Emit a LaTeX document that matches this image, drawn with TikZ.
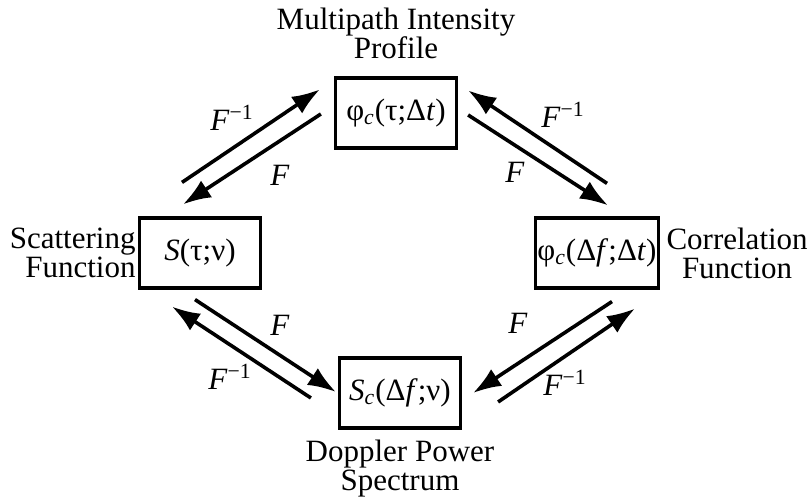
\documentclass[tikz,border=0pt]{standalone}
\usepackage{fontspec}
\setmainfont{Liberation Serif}
\usetikzlibrary{arrows.meta,calc,positioning}
\newcommand{\Finv}{\textit{F}\textsuperscript{−1}}

\begin{document}
\begin{tikzpicture}[x=0.5pt,y=0.5pt,font=\fontsize{15.5}{14.5}\selectfont,>=Latex,
  fbox/.style={draw,line width=1.6pt,minimum width=60.5pt,minimum height=35pt,inner sep=1pt},
  caption/.style={align=center,inner sep=0pt},
  arr/.style={-{Latex[length=14pt,width=10pt]},line width=1.8pt},
  lbl/.style={inner sep=0pt}]
  \useasboundingbox (0,0) rectangle (811,501);
  \node[fbox] (mip) at (396,388) {φ\textsubscript{\itshape c}(τ;Δ\textit{t})};
  \node[fbox] (scat) at (200,248) {\textit{S}(τ;ν)};
  \node[fbox] (corr) at (597,248) {φ\textsubscript{\itshape c}(Δ\textit{f};Δ\textit{t})};
  \node[fbox] (dps) at (400,108) {\textit{S}\textsubscript{\itshape c}(Δ\textit{f};ν)};
  \node[caption,above=8.5pt of mip] (mipname) {Multipath Intensity\\Profile};
  \node[caption,below=5pt of dps] (dpsname) {Doppler Power\\Spectrum};
  \node[caption,align=right,left=1pt of scat] (scatname) {Scattering\\Function};
  \node[caption,right=3pt of corr] (corrname) {Correlation\\Function};
  % Fourier pairs
  \draw[arr] ($(scat.north)+(-18,34)$) -- ($(mip.north west)+(-14,-13)$);
  \draw[arr] ($(mip.west)+(-13,-1)$) -- ($(scat.north)+(-17,12)$);
  \draw[arr] ($(corr.north)+(10,33)$) -- ($(mip.north east)+(10,-14)$);
  \draw[arr] ($(mip.east)+(10,-2)$) -- ($(corr.north)+(11,11)$);
  \draw[arr] ($(scat.south)+(-5,-10)$) -- ($(dps.west)+(-2,1)$);
  \draw[arr] ($(dps.west)+(-27,-5)$) -- ($(scat.south)+(-28,-17)$);
  \draw[arr] ($(corr.south)+(15,-12)$) -- ($(dps.east)+(11,0)$);
  \draw[arr] ($(dps.east)+(36,-9)$) -- ($(corr.south)+(38,-19)$);
  \node[lbl] (finvA) at (232,383) {\Finv};
  \node[lbl] (fA) at (280,326) {\textit{F}};
  \node[lbl] (finvB) at (563,386) {\Finv};
  \node[lbl] (fB) at (515,329) {\textit{F}};
  \node[lbl] (fC) at (280,176) {\textit{F}};
  \node[lbl] (finvC) at (230,124) {\Finv};
  \node[lbl] (fD) at (518,178) {\textit{F}};
  \node[lbl] (finvD) at (565,118) {\Finv};
\end{tikzpicture}
\end{document}
